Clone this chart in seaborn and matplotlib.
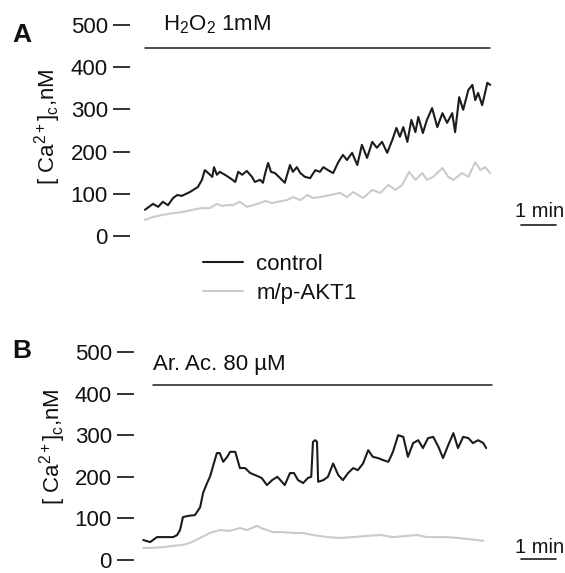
import numpy as np
import pandas as pd
import matplotlib.pyplot as plt
import seaborn as sns

# Panel A: H2O2 1 mM, time (s) and [Ca2+]c (nM)
a_ctrl_t = [0, 14, 23, 31, 40, 49, 56, 64, 78, 92, 99, 104, 110, 117, 120, 125, 130, 139, 148, 157,
            162, 169, 177, 186, 191, 200, 205, 209, 214, 219, 226, 235, 243, 252, 257, 264, 270, 278, 287, 296,
            304, 310, 318, 327, 336, 344, 351, 360, 369, 377, 386, 395, 403, 412, 421, 430, 437, 443, 449, 456,
            463, 470, 475, 483, 490, 499, 508, 517, 525, 534, 539, 546, 553, 562, 569, 574, 579, 586, 591, 595, 600]
a_ctrl_ca = [62, 76, 69, 81, 73, 90, 97, 95, 104, 116, 133, 156, 149, 140, 163, 145, 152, 145, 137, 128,
             152, 145, 154, 140, 128, 133, 126, 149, 173, 152, 149, 137, 126, 168, 152, 163, 149, 140, 137, 156,
             152, 163, 156, 149, 175, 192, 180, 197, 168, 216, 185, 223, 209, 223, 197, 228, 256, 235, 258, 223,
             275, 246, 282, 244, 275, 303, 258, 291, 268, 291, 246, 329, 299, 346, 358, 322, 339, 310, 339, 363, 358]
a_akt_t = [0, 14, 31, 49, 66, 83, 99, 113, 125, 134, 143, 153, 165, 177, 188, 200, 209, 221, 231, 247,
           257, 270, 282, 292, 304, 322, 339, 351, 362, 379, 395, 409, 423, 435, 447, 459, 470, 482, 490, 501,
           517, 527, 536, 551, 562, 574, 583, 591, 600]
a_akt_ca = [38, 45, 50, 54, 57, 62, 66, 66, 76, 71, 73, 73, 81, 69, 73, 78, 83, 78, 81, 85,
            92, 85, 97, 90, 92, 97, 102, 92, 104, 90, 109, 102, 121, 109, 121, 152, 133, 149, 133, 140,
            161, 140, 133, 149, 140, 175, 156, 163, 149]

# Panel B: arachidonic acid 80 uM
b_ctrl_t = [-3, 9, 21, 38, 49, 56, 61, 66, 75, 87, 96, 101, 108, 113, 118, 125, 130, 136, 143, 148,
            157, 165, 174, 183, 195, 203, 212, 221, 230, 238, 243, 252, 259, 266, 275, 283, 289, 292, 296, 299,
            301, 310, 318, 327, 336, 344, 353, 362, 370, 379, 388, 396, 405, 414, 423, 431, 440, 449, 457, 466,
            475, 483, 492, 501, 510, 518, 527, 536, 544, 553, 562, 570, 579, 588, 593]
b_ctrl_ca = [48, 43, 55, 55, 55, 60, 72, 103, 106, 108, 127, 161, 185, 200, 224, 257, 257, 236, 248, 260,
             260, 221, 221, 209, 202, 197, 180, 192, 200, 188, 180, 209, 209, 192, 185, 197, 200, 284, 288, 284,
             188, 192, 200, 232, 204, 192, 209, 221, 216, 232, 264, 248, 245, 240, 236, 260, 300, 296, 248, 281,
             288, 269, 293, 296, 272, 245, 276, 305, 269, 296, 293, 281, 288, 281, 269]
b_akt_t = [-3, 14, 31, 49, 66, 78, 96, 113, 130, 148, 165, 177, 195, 205, 223, 240, 257, 275, 292, 317,
           339, 362, 386, 409, 431, 456, 473, 490, 508, 525, 543, 565, 588]
b_akt_ca = [29, 29, 31, 34, 36, 41, 53, 65, 72, 70, 77, 72, 82, 75, 67, 67, 65, 65, 60, 55,
            53, 55, 58, 60, 55, 58, 60, 55, 55, 55, 53, 50, 46]

groups = ['control', 'm/p-AKT1']
colors = {'control': '#1c1c1c', 'm/p-AKT1': '#cbcbcb'}
yticks = [0, 100, 200, 300, 400, 500]
ylabel = r'[ Ca$^{2+}$]$_\mathrm{c}$,nM'

sns.set_style('white')
plt.rcParams['font.family'] = ['Liberation Sans', 'DejaVu Sans']
plt.rcParams['mathtext.fontset'] = 'custom'
plt.rcParams['mathtext.rm'] = 'Liberation Sans'
plt.rcParams['mathtext.it'] = 'Liberation Sans:italic'
plt.rcParams['mathtext.bf'] = 'Liberation Sans:bold'
for key in ['text.color', 'axes.labelcolor', 'xtick.color', 'ytick.color']:
    plt.rcParams[key] = '#111111'

FS = 16

def long_df(ctrl_t, ctrl_ca, akt_t, akt_ca):
    d1 = pd.DataFrame({'time': ctrl_t, 'ca': ctrl_ca, 'group': groups[0]})
    d2 = pd.DataFrame({'time': akt_t, 'ca': akt_ca, 'group': groups[1]})
    return pd.concat([d2, d1], ignore_index=True)

fig = plt.figure(figsize=(5.65, 5.73), dpi=100)
axA = fig.add_axes([130 / 565, 0.5735, 370 / 565, 0.3976])
axB = fig.add_axes([134 / 565, 0.0082, 366 / 565, 0.392])

dfA = long_df(a_ctrl_t, a_ctrl_ca, a_akt_t, a_akt_ca)
dfB = long_df(b_ctrl_t, b_ctrl_ca, b_akt_t, b_akt_ca)

for ax, df in [(axA, dfA), (axB, dfB)]:
    sns.lineplot(data=df, x='time', y='ca', hue='group', palette=colors, estimator=None,
                 sort=False, linewidth=1.5, ax=ax, legend=False)
    ax.set_ylim(-20, 520)
    ax.set_yticks(yticks)
    ax.set_xticks([])
    ax.set_xlabel('')
    ax.set_ylabel(ylabel, fontsize=FS)
    sns.despine(ax=ax, left=True, bottom=True)
    ax.tick_params(axis='y', left=True, direction='out', length=12, width=1.2,
                   pad=4, labelsize=FS, color='#111111')

axA.set_xlim(-26, 617)
axB.set_xlim(-19, 617)
axA.yaxis.set_label_coords(-0.182, 0.515)
axB.yaxis.set_label_coords(-0.18, 0.54)

# stimulus bars
axA.plot([0, 600], [445, 445], color='#1c1c1c', lw=1.1)
axA.text(31, 500, r'H$_2$O$_2$ 1mM', fontsize=FS, ha='left', va='center')
axB.plot([14, 603], [421, 421], color='#1c1c1c', lw=1.1)
axB.text(14, 469, 'Ar. Ac. 80 µM', fontsize=FS, ha='left', va='center')

# 1 min scale bars
for ax, yb, yt in [(axA, 26, 57), (axB, 2, 31)]:
    ax.plot([654, 714], [yb, yb], color='#1c1c1c', lw=1.2, clip_on=False)
    ax.text(686, yt, '1 min', fontsize=FS - 1.5, ha='center', va='center', clip_on=False)

# legend
handles = [plt.Line2D([], [], color=colors[g], lw=1.5) for g in groups]
axA.legend(handles, groups, loc='upper left', bbox_to_anchor=(203 / 565, 1 - 254 / 573),
           bbox_transform=fig.transFigure, frameon=False, borderpad=0, borderaxespad=0,
           handlelength=1.8, handletextpad=0.6, labelspacing=0.35, fontsize=FS)

fig.text(22 / 565, 1 - 35 / 573, 'A', fontsize=19, fontweight='bold', ha='center', va='center')
fig.text(22 / 565, 1 - 351 / 573, 'B', fontsize=19, fontweight='bold', ha='center', va='center')

fig.savefig('out.png', dpi=100)
